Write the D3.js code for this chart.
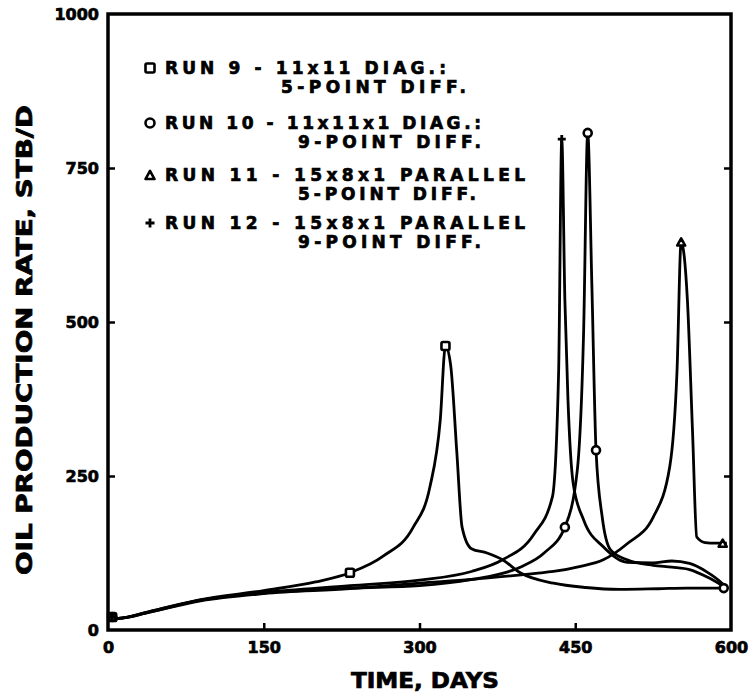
<!DOCTYPE html>
<html>
<head>
<meta charset="utf-8">
<title>Oil production rate vs time</title>
<script src="https://d3js.org/d3.v7.min.js"></script>
<style>
  body { margin: 0; background: #fff; }
  svg { display: block; }
  text { font-family: "DejaVu Sans", sans-serif; font-weight: bold; fill: #000; stroke: #000; stroke-width: 0.7px; }
  .axis text { font-size: 16px; }
  .axis line { stroke: #000; stroke-width: 2.5px; }
  .axis .domain { display: none; }
</style>
</head>
<body>
<svg width="755" height="697"></svg>
<script>
// runs: time (days) and oil rate (STB/D)
const run9T  = [3, 10, 40, 88, 150, 200, 233, 265, 294, 310, 320, 325, 330, 336, 341, 350, 365, 380, 397, 429, 460, 493, 530, 558, 596];
const run9V  = [20, 19, 30, 49, 64, 78, 93, 120, 167, 232, 341, 461, 430, 287, 167, 132, 125, 114, 93, 76, 69, 66, 67, 68, 68];

const run10T = [3, 10, 40, 88, 150, 233, 300, 350, 397, 420, 440, 452, 458, 462, 466, 470, 476, 484, 500, 525, 543, 560, 577, 590, 596];
const run10V = [20, 19, 29, 48, 60, 68, 72, 82, 102, 125, 167, 260, 480, 807, 560, 292, 183, 130, 114, 105, 102, 98, 86, 74, 68];

const run11T = [3, 10, 40, 88, 150, 233, 300, 350, 412, 429, 454, 477, 500, 525, 541, 548, 552, 558, 563, 567, 575, 585, 596];
const run11V = [20, 19, 29, 47, 59, 67, 76, 82, 92, 95, 103, 114, 140, 183, 265, 420, 630, 536, 320, 151, 142, 141, 141];

const run12T = [3, 10, 40, 88, 150, 233, 300, 350, 380, 410, 428, 434, 437, 440, 443, 448, 458, 477, 500, 525, 543, 560, 577, 590, 596];
const run12V = [20, 19, 30, 48, 61, 72, 81, 95, 114, 155, 216, 420, 797, 536, 373, 238, 179, 135, 110, 109, 112, 108, 94, 78, 68];

// symbols drawn on the curves
const run9Marks  = [[4, 21], [233, 93], [325, 461]];
const run10Marks = [[4, 21], [440, 167], [462, 807], [470, 292], [593, 68]];
const run11Marks = [[4, 21], [552, 630], [592, 141]];
const run12Marks = [[4, 21], [437, 797]];

const legendLines = [
  ["RUN 9 - 11x11 DIAG.:", "5-POINT DIFF."],
  ["RUN 10 - 11x11x1 DIAG.:", "9-POINT DIFF."],
  ["RUN 11 - 15x8x1 PARALLEL", "5-POINT DIFF."],
  ["RUN 12 - 15x8x1 PARALLEL", "9-POINT DIFF."]
];

const xTicks = [0, 150, 300, 450, 600];
const yTicks = [0, 250, 500, 750, 1000];

const svg = d3.select("svg");
const x = d3.scaleLinear().domain([0, 600]).range([108, 731]);
const y = d3.scaleLinear().domain([0, 1000]).range([630, 14]);

// frame
svg.append("rect")
  .attr("x", x(0)).attr("y", y(1000))
  .attr("width", x(600) - x(0)).attr("height", y(0) - y(1000))
  .attr("fill", "none").attr("stroke", "#000").attr("stroke-width", 3.5);

svg.append("g").attr("class", "axis")
  .attr("transform", `translate(${x(0)},0)`)
  .call(d3.axisLeft(y).tickValues(yTicks).tickFormat(d3.format("d")).tickSize(-7).tickSizeOuter(0).tickPadding(9))
  .selectAll("line").filter(d => d === 0 || d === 1000).remove();

svg.append("g").attr("class", "axis")
  .attr("transform", `translate(${x(600)},0)`)
  .call(d3.axisRight(y).tickValues(yTicks).tickSize(-7).tickSizeOuter(0).tickFormat(""))
  .selectAll("line").filter(d => d === 0 || d === 1000).remove();

svg.append("g").attr("class", "axis")
  .attr("transform", `translate(0,${y(0)})`)
  .call(d3.axisBottom(x).tickValues(xTicks).tickFormat(d3.format("d")).tickSize(-7).tickSizeOuter(0).tickPadding(12))
  .selectAll("line").filter(d => d === 0 || d === 600).remove();

// curves
const line = d3.line()
  .x(d => x(d[0]))
  .y(d => y(d[1]))
  .curve(d3.curveMonotoneX);

const runs = [
  {t: run9T, v: run9V, marks: run9Marks, sym: "square"},
  {t: run10T, v: run10V, marks: run10Marks, sym: "circle"},
  {t: run11T, v: run11V, marks: run11Marks, sym: "triangle"},
  {t: run12T, v: run12V, marks: run12Marks, sym: "plus"}
];

runs.forEach(r => {
  svg.append("path")
    .datum(r.t.map((t, i) => [t, r.v[i]]))
    .attr("d", line)
    .attr("fill", "none")
    .attr("stroke", "#000")
    .attr("stroke-width", 2.8)
    .attr("stroke-linejoin", "round");
});

function drawSymbol(g, sym, cx, cy, s) {
  if (sym === "square") {
    g.append("rect").attr("x", cx - s / 2).attr("y", cy - s / 2).attr("width", s).attr("height", s)
      .attr("rx", 1.5).attr("fill", "#fff").attr("stroke", "#000").attr("stroke-width", 2.6);
  } else if (sym === "circle") {
    g.append("circle").attr("cx", cx).attr("cy", cy).attr("r", s / 2)
      .attr("fill", "#fff").attr("stroke", "#000").attr("stroke-width", 2.6);
  } else if (sym === "triangle") {
    const h = s * 0.9;
    g.append("path")
      .attr("d", `M${cx},${cy - h / 2}L${cx + s / 2},${cy + h / 2}L${cx - s / 2},${cy + h / 2}Z`)
      .attr("fill", "#fff").attr("stroke", "#000").attr("stroke-width", 2.6).attr("stroke-linejoin", "round");
  } else {
    g.append("path")
      .attr("d", `M${cx - s / 2},${cy}H${cx + s / 2}M${cx},${cy - s / 2}V${cy + s / 2}`)
      .attr("stroke", "#000").attr("stroke-width", 2.8);
  }
}

const marks = svg.append("g");
runs.forEach(r => {
  r.marks.forEach(m => drawSymbol(marks, r.sym, x(m[0]), y(m[1]), 8));
});

// legend
const legendRows = [
  {y1: 74, y2: 93, x2: 281, w1: 281, w2: 185},
  {y1: 129, y2: 148, x2: 298, w1: 316, w2: 183},
  {y1: 181, y2: 200, x2: 298, w1: 360, w2: 178},
  {y1: 229, y2: 248, x2: 298, w1: 360, w2: 183}
];
const legend = svg.append("g");
legendLines.forEach((ln, i) => {
  const p = legendRows[i];
  drawSymbol(legend, runs[i].sym, 150, p.y1 - 6, 9);
  legend.append("text").attr("x", 165).attr("y", p.y1)
    .attr("font-size", 17).attr("textLength", p.w1).attr("lengthAdjust", "spacing")
    .text(ln[0]);
  legend.append("text").attr("x", p.x2).attr("y", p.y2)
    .attr("font-size", 17).attr("textLength", p.w2).attr("lengthAdjust", "spacing")
    .text(ln[1]);
});

// axis titles
svg.append("text")
  .attr("x", 425).attr("y", 688)
  .attr("text-anchor", "middle").attr("font-size", 21)
  .attr("textLength", 148).attr("lengthAdjust", "spacingAndGlyphs")
  .text("TIME, DAYS");

svg.append("text")
  .attr("transform", "translate(32,340) rotate(-90)")
  .attr("text-anchor", "middle").attr("font-size", 21)
  .attr("textLength", 470).attr("lengthAdjust", "spacingAndGlyphs")
  .text("OIL PRODUCTION RATE, STB/D");
</script>
</body>
</html>
